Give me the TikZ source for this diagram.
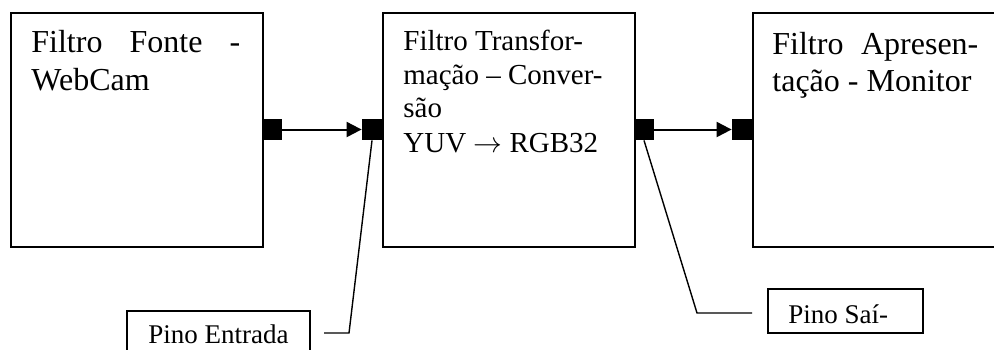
\documentclass[tikz,border=0pt]{standalone}
\usepackage{fontspec}
\setmainfont{Liberation Serif}
\usetikzlibrary{arrows.meta}
\tikzset{
  filterbox/.style={draw, line width=1pt, anchor=north west, inner sep=0pt,
    minimum width=126pt, minimum height=117pt},
  pin/.style={fill=black, draw=none, inner sep=0pt, minimum width=10pt, minimum height=10.5pt},
  boxtext/.style={anchor=base west, inner sep=0pt, font=\fontsize{16}{19}\selectfont},
  midtext/.style={anchor=base west, inner sep=0pt, font=\fontsize{14.5}{17}\selectfont},
  calltext/.style={anchor=base west, inner sep=0pt, font=\fontsize{13.5}{16}\selectfont},
  callbox/.style={draw, line width=0.8pt, anchor=north west, inner sep=0pt},
  flow/.style={line width=1pt, -{Triangle[length=7.5pt,width=7.5pt]}},
  leader/.style={line width=0.7pt}
}
\begin{document}
\begin{tikzpicture}[x=0.5pt,y=-0.5pt]
\clip (0,0) rectangle (994,349);
\fill[white] (0,0) rectangle (994,349);
% filter boxes
\node[filterbox] (f1) at (10,12) {};
\node[filterbox] (f2) at (382,12) {};
\node[filterbox] (f3) at (752,12) {};
% texts
\node[boxtext] (t1a) at (31,52) {\makebox[104.5pt][s]{Filtro Fonte -}};
\node[boxtext] (t1b) at (31,90) {WebCam};
\node[midtext] (t2a) at (403,50) {Filtro Transfor-};
\node[midtext] (t2b) at (403,84) {mação – Conver-};
\node[midtext] (t2c) at (403,117) {são};
\node[midtext] (t2d) at (403,152) {YUV $\rightarrow$ RGB32};
\node[boxtext] (t3a) at (772,54) {\makebox[103pt][s]{Filtro Apresen-}};
\node[boxtext] (t3b) at (772,91) {tação - Monitor};
% pins
\node[pin] (o1) at (272,129.5) {};
\node[pin] (i2) at (372,129.5) {};
\node[pin] (o2) at (644,129.5) {};
\node[pin] (i3) at (742,129.5) {};
\draw[flow] (o1.east) -- (i2.west);
\draw[flow] (o2.east) -- (i3.west);
% callouts
\node[callbox, minimum width=91.5pt, minimum height=40pt] (ce) at (126,310) {};
\node[calltext] (cet) at (148,343) {Pino Entrada};
\node[callbox, minimum width=77.5pt, minimum height=22pt] (cs) at (767,288) {};
\node[calltext] (cst) at (788,323) {Pino Saí-};
\coordinate (ek) at (349,333);
\coordinate (ee) at (324,333);
\coordinate (sk) at (697,313);
\coordinate (se) at (752,313);
\draw[leader] (i2.south) -- (ek) -- (ee);
\draw[leader] (o2.south) -- (sk) -- (se);
\end{tikzpicture}
\end{document}
